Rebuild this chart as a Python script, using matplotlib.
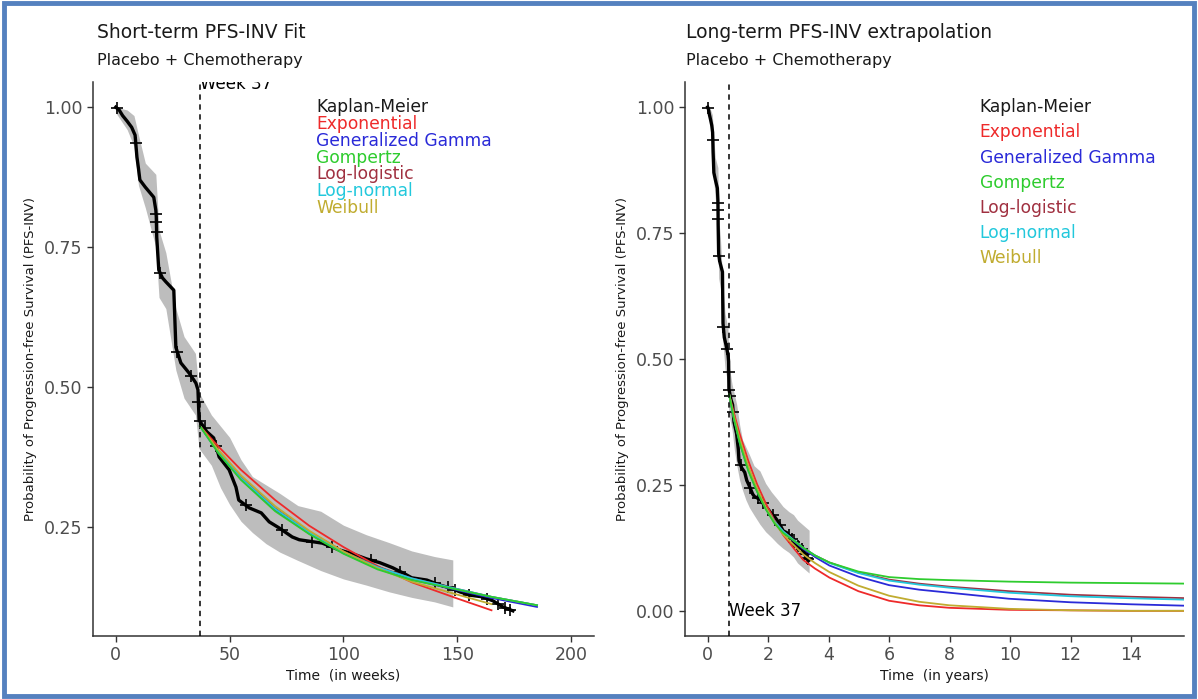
import matplotlib
matplotlib.use('Agg')
import matplotlib.pyplot as plt
from matplotlib.patches import Rectangle
import numpy as np

# Kaplan-Meier estimate (time in weeks)
km_t = [0, 1.5, 3, 5, 7, 8.5, 9.3, 10, 10.6, 13, 16.7, 17.6, 17.8, 17.9, 18, 18.9, 20.5, 22, 25.5,
        26.4, 28.6, 32.2, 35.2, 36.1, 36.6, 37.4, 40, 43, 45.4, 47.5, 49.8, 52.8, 54, 58.6, 63.9,
        67.4, 71.8, 77.5, 80.6, 90.7, 98, 104, 110, 116, 121.6, 126, 130, 136.6, 142.3, 147.6,
        151, 155.5, 161, 165.6, 170, 174.4]
km_s = [1.0, 0.995, 0.985, 0.975, 0.964, 0.950, 0.911, 0.89, 0.870, 0.857, 0.839, 0.816, 0.804,
        0.786, 0.768, 0.709, 0.695, 0.688, 0.673, 0.571, 0.543, 0.525, 0.507, 0.495, 0.441, 0.436,
        0.420, 0.409, 0.375, 0.364, 0.352, 0.321, 0.298, 0.284, 0.275, 0.259, 0.248, 0.232, 0.227,
        0.221, 0.209, 0.202, 0.193, 0.186, 0.177, 0.168, 0.159, 0.155, 0.146, 0.140, 0.134, 0.128,
        0.125, 0.118, 0.107, 0.100]
cens_t = [0.5, 8.8, 17.7, 17.85, 17.95, 19.5, 27.0, 33.0, 36.3, 37.0, 39.0, 44.0, 57, 73, 86,
          95, 112, 125, 140, 146, 149, 155, 163, 168, 171, 173]

# 95% CI band
band_t = [0, 5, 8, 10, 13, 17.6, 19, 22, 26.4, 30, 35, 36.6, 42, 46, 50, 55, 60, 66, 72, 80, 90,
          100, 110, 120, 130, 140, 148, 155, 165, 175]
band_lo = [0.99, 0.96, 0.93, 0.86, 0.82, 0.75, 0.66, 0.64, 0.53, 0.48, 0.45, 0.39, 0.36, 0.32,
           0.29, 0.26, 0.24, 0.22, 0.205, 0.19, 0.172, 0.157, 0.146, 0.134, 0.124, 0.116, 0.107,
           0.095, 0.085, 0.075]
band_hi = [1.0, 0.995, 0.985, 0.95, 0.90, 0.88, 0.78, 0.74, 0.64, 0.59, 0.56, 0.49, 0.45, 0.43,
           0.41, 0.37, 0.34, 0.325, 0.31, 0.288, 0.278, 0.253, 0.236, 0.222, 0.207, 0.197, 0.191,
           0.18, 0.17, 0.16]

# parametric fits, time in weeks
fit_t = [37, 45, 55, 70, 85, 100, 115, 130, 150, 165, 185, 210, 260, 313, 365, 417, 520, 626, 730, 830]
exponential = [0.430, 0.394, 0.352, 0.298, 0.252, 0.214, 0.180, 0.151, 0.122, 0.101, 0.084, 0.066,
               0.039, 0.020, 0.011, 0.006, 0.002, 0.001, 0.000, 0.000]
gen_gamma = [0.430, 0.383, 0.335, 0.280, 0.238, 0.203, 0.176, 0.156, 0.137, 0.123, 0.107, 0.090,
             0.068, 0.051, 0.042, 0.036, 0.024, 0.017, 0.013, 0.010]
gompertz = [0.430, 0.382, 0.334, 0.278, 0.237, 0.202, 0.174, 0.155, 0.138, 0.125, 0.110, 0.096,
            0.078, 0.067, 0.063, 0.061, 0.058, 0.056, 0.055, 0.054]
loglogistic = [0.430, 0.385, 0.338, 0.283, 0.241, 0.206, 0.179, 0.158, 0.139, 0.125, 0.110, 0.096,
               0.076, 0.062, 0.054, 0.048, 0.039, 0.032, 0.028, 0.025]
lognormal = [0.430, 0.384, 0.337, 0.282, 0.240, 0.205, 0.178, 0.158, 0.139, 0.125, 0.110, 0.095,
             0.075, 0.060, 0.052, 0.046, 0.036, 0.029, 0.025, 0.022]
weibull = [0.430, 0.388, 0.342, 0.287, 0.243, 0.206, 0.176, 0.152, 0.129, 0.112, 0.095, 0.077,
           0.050, 0.030, 0.018, 0.011, 0.004, 0.001, 0.000, 0.000]

labels = ['Kaplan-Meier', 'Exponential', 'Generalized Gamma', 'Gompertz', 'Log-logistic',
          'Log-normal', 'Weibull']
colors = ['#1a1a1a', '#ee2a2a', '#2a2ad8', '#2ecc2e', '#a03040', '#22c8dc', '#c0ac30']
models = [exponential, gen_gamma, gompertz, loglogistic, lognormal, weibull]
draw_order = [0, 1, 3, 4, 5, 2]

WEEKS_PER_YEAR = 52.18
cut_week = 37


def style_axes(ax):
    for s in ['top', 'right']:
        ax.spines[s].set_visible(False)
    for s in ['left', 'bottom']:
        ax.spines[s].set_color('#333333')
        ax.spines[s].set_linewidth(1.1)
    ax.tick_params(direction='out', length=4, width=1, color='#333333',
                   labelsize=12.5, labelcolor='#4d4d4d')
    ax.set_ylabel('Probability of Progression-free Survival (PFS-INV)', fontsize=9.5,
                  color='#1a1a1a', labelpad=5)


def draw_panel(ax, scale, ymin, tmax_fit):
    t_km = np.array(km_t) / scale
    s_km = np.array(km_s, dtype=float)
    bt = np.array(band_t) / scale
    lo = np.array(band_lo, dtype=float)
    hi = np.array(band_hi, dtype=float)
    keep = lo >= ymin
    ax.fill_between(bt[keep], lo[keep], hi[keep], color='#bdbdbd', lw=0, zorder=1)

    ft = np.array(fit_t) / scale
    fmask = np.array(fit_t) <= tmax_fit
    for i in draw_order:
        vals = np.array(models[i], dtype=float)
        vals[vals < ymin] = np.nan
        ax.plot(ft[fmask], vals[fmask], color=colors[i + 1], lw=1.3, zorder=3)

    ax.plot(t_km, s_km, color='black', lw=2.4, zorder=2)
    ct = np.array(cens_t)
    ax.plot(ct / scale, np.interp(ct, km_t, km_s), ls='none', marker='+', ms=8, mew=1.2,
            color='black', zorder=2)
    ax.axvline(cut_week / scale, color='black', ls=(0, (3.5, 3)), lw=1.1, zorder=4)


fig = plt.figure(figsize=(11.98, 6.99), dpi=100)

# left: short-term fit (weeks)
ax1 = fig.add_axes([0.0776, 0.0901, 0.4182, 0.7926])
draw_panel(ax1, 1.0, 0.1, 185)
ax1.set_xlim(-10, 210)
ax1.set_ylim(0.055, 1.045)
ax1.set_xticks([0, 50, 100, 150, 200])
ax1.set_yticks([0.25, 0.50, 0.75, 1.00])
ax1.set_yticklabels(['0.25', '0.50', '0.75', '1.00'])
style_axes(ax1)
ax1.set_xlabel('Time  (in weeks)', fontsize=10, color='#1a1a1a', labelpad=3)
ax1.text(cut_week, 1.026, 'Week 37', fontsize=12, ha='left', va='bottom', clip_on=True)
for i, lab in enumerate(labels):
    ax1.text(88, 1.0 - 0.03 * i, lab, color=colors[i], fontsize=12.3, ha='left', va='center')

# right: long-term extrapolation (years)
ax2 = fig.add_axes([0.5718, 0.0901, 0.4165, 0.7926])
draw_panel(ax2, WEEKS_PER_YEAR, -1.0, 10000)
ax2.set_xlim(-0.75, 15.75)
ax2.set_ylim(-0.05, 1.05)
ax2.set_xticks([0, 2, 4, 6, 8, 10, 12, 14])
ax2.set_yticks([0, 0.25, 0.50, 0.75, 1.00])
ax2.set_yticklabels(['0.00', '0.25', '0.50', '0.75', '1.00'])
style_axes(ax2)
ax2.set_xlabel('Time  (in years)', fontsize=10, color='#1a1a1a', labelpad=3)
ax2.text(cut_week / WEEKS_PER_YEAR, 0.0, 'Week 37', fontsize=12, ha='left', va='center')
for i, lab in enumerate(labels):
    ax2.text(9.0, 1.0 - 0.05 * i, lab, color=colors[i], fontsize=12.3, ha='left', va='center')

# titles
fig.text(0.081, 0.954, 'Short-term PFS-INV Fit', fontsize=13.5, color='#1a1a1a', va='center')
fig.text(0.081, 0.914, 'Placebo + Chemotherapy', fontsize=11.5, color='#1a1a1a', va='center')
fig.text(0.5726, 0.954, 'Long-term PFS-INV extrapolation', fontsize=13.5, color='#1a1a1a', va='center')
fig.text(0.5726, 0.914, 'Placebo + Chemotherapy', fontsize=11.5, color='#1a1a1a', va='center')

# outer frame
fig.patches.append(Rectangle((0.003, 0.005), 0.994, 0.99, transform=fig.transFigure,
                             fill=False, edgecolor='#5581bf', lw=3.5))

fig.savefig('out.png', dpi=100)
